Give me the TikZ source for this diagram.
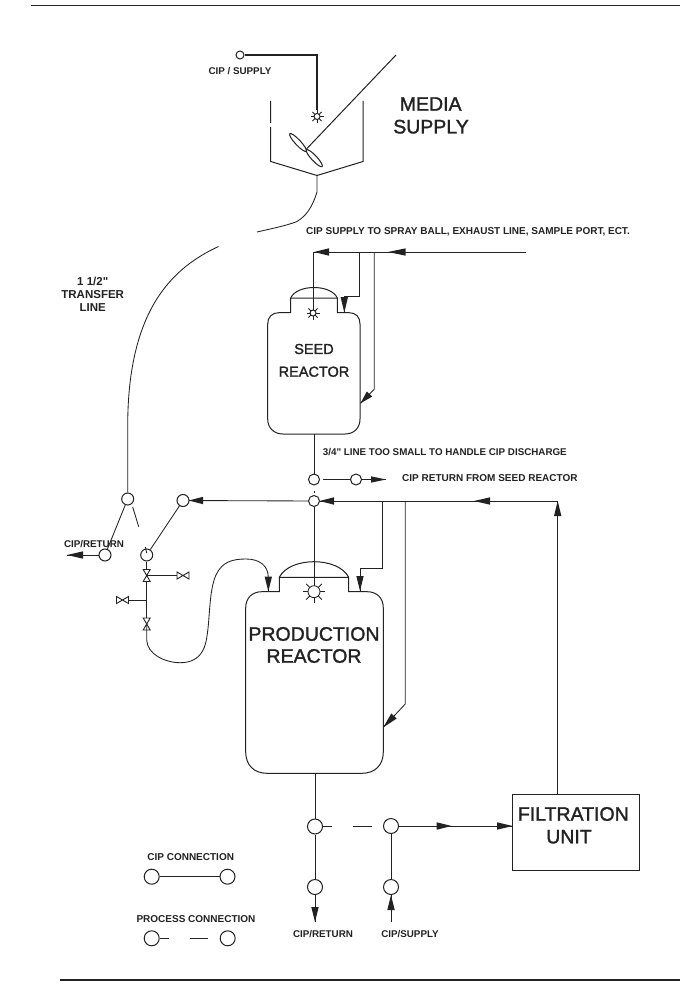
\documentclass[tikz,border=0pt]{standalone}
\usepackage{fontspec}
\setmainfont{Liberation Sans}
\newfontfamily\titlefont[FakeBold=1.5]{Liberation Sans}
\newfontfamily\tagfont{Liberation Sans Bold}
\usetikzlibrary{calc}
\definecolor{ink}{HTML}{222222}
% filled flow arrowhead from a base point to a tip point
\newcommand\flowhead[3][3.7pt]{%
  \fill[ink] ($#2!#1!90:#3$) -- #3 -- ($#2!#1!-90:#3$) -- cycle;
  \draw[pipe] #2 -- #3;}
\tikzset{
  x=1pt,y=-1pt,
  pipe/.style={draw=ink,line width=0.85pt},
  vessel/.style={draw=ink,line width=1pt},
  rule/.style={draw=ink,line width=1.3pt},
  port/.style={circle,draw=ink,line width=1pt,fill=white,inner sep=0pt,minimum size=#1},
  port/.default=12pt,
  title/.style={inner sep=0pt,text=ink,font=\titlefont\fontsize{19.5}{22}\selectfont},
  subtitle/.style={inner sep=0pt,text=ink,font=\titlefont\fontsize{14.5}{17}\selectfont},
  tag/.style={inner sep=0pt,text=ink,font=\tagfont\fontsize{#1}{13}\selectfont},
  tag/.default=10,
  sparkle/.pic={
    \draw[ink,line width=1pt] (0,0) circle (3);
    \foreach \a in {0,45,...,315}
      \draw[ink,line width=1pt] (\a:3) -- (\a:6.5);
  },
  valve/.pic={
    \draw[ink,line width=0.9pt,fill=white] (-3.5,-6) -- (3.5,-6) -- (-3.5,6) -- (3.5,6) -- cycle;
  },
}
\begin{document}
\begin{tikzpicture}
\useasboundingbox[fill=white] (0,0) rectangle (680,984);

% sheet rules
\coordinate (topL) at (31,5.5); \coordinate (topR) at (680,5.5);
\coordinate (botL) at (60,980); \coordinate (botR) at (680,980);
\draw[rule] (topL) -- (topR);
\draw[rule] (botL) -- (botR);

% ---- media supply tank ----
\node[port=8pt] (cipS) at (240,55) {};
\coordinate (cipC) at (317,55);
\coordinate (sprayM) at (317,116.5);
\draw[pipe,line width=1.1pt] (cipS) -- (cipC) -- (317,110);
\pic at (sprayM) {sparkle};
\draw[vessel] (270.7,101) -- (270.7,123) (270.7,127) -- (270.7,161.5) -- (317,175.5) -- (363,161.5) -- (363,101);
\coordinate (shaftT) at (396,55);
\coordinate (shaftB) at (306.5,149);
\draw[vessel] (shaftT) -- (shaftB);
\draw[vessel] (298,142.5) ellipse [x radius=12,y radius=2.7,rotate=-47];
\draw[vessel] (314.3,158.2) ellipse [x radius=11.5,y radius=2.7,rotate=-47];
\coordinate (outM) at (317,175.5);
\coordinate (gapA) at (257,232);
\coordinate (gapB) at (218.5,246.5);
\node[port] (transfer) at (127.7,499) {};
\draw[pipe] (outM) -- (317,192) .. controls (312,208) and (306,216) .. (296.7,221.7) .. controls (285,226) and (270,229) .. (gapA);
\draw[pipe] (gapB) .. controls (172,268) and (128,310) .. (127.7,425) -- (transfer);
\node[title] at (430.7,104) {MEDIA};
\node[title] at (431,126.7) {SUPPLY};
\node[tag=9.8] at (240,71) {CIP / SUPPLY};
\node[tag=11.5,align=center] at (92.7,294) {1 1/2"\\TRANSFER\\LINE};

% ---- seed reactor ----
\coordinate (feedR) at (526,252);
\coordinate (feedL) at (313.3,252);
\coordinate (sprayS) at (313,313);
\coordinate (branchA) at (359.3,252);
\coordinate (branchB) at (374.3,252);
\draw[vessel] (290.7,298) -- (290.7,312.7) -- (279,312.7) .. controls (272,312.7) and (267.7,317) .. (267.7,324)
  -- (267.7,419) .. controls (267.7,428) and (274,434) .. (283,434) -- (345,434)
  .. controls (354,434) and (360,428) .. (360,419) -- (360,324)
  .. controls (360,317) and (356,312.7) .. (349,312.7) -- (337.3,312.7) -- (337.3,298) -- cycle;
\draw[vessel] (290.7,298) .. controls (297,284) and (331,284) .. (337.3,298);
\pic at (sprayS) {sparkle};
\draw[pipe] (feedR) -- (feedL) -- (313.3,307);
\draw[pipe] (branchA) -- (359.3,296.7) -- (344.3,296.7);
\flowhead{(344.3,297)}{(344.3,312.7)}
\draw[pipe] (branchB) -- (374.3,389.3) -- (369.5,394);
\flowhead{(369.5,394)}{(360.5,403.3)}
\flowhead{(329,252)}{(314,252)}
\flowhead{(405.7,252)}{(388,252)}
\node[subtitle] at (314,349) {SEED};
\node[subtitle] at (314,371.7) {REACTOR};
\node[tag,anchor=west] at (306,232) {CIP SUPPLY TO SPRAY BALL, EXHAUST LINE, SAMPLE PORT, ECT.};
\node[tag=9.8,anchor=west] at (322.7,452.5) {3/4" LINE TOO SMALL TO HANDLE CIP DISCHARGE};
\node[tag,anchor=west] at (402,478) {CIP RETURN FROM SEED REACTOR};

% seed reactor discharge
\node[port=11pt] (seedOut) at (314,479.5) {};
\node[port=11pt] (seedRet) at (356,479.5) {};
\node[port=11pt] (header) at (314,501) {};
\coordinate (seedBot) at (314,434);
\draw[pipe] (seedBot) -- (seedOut);
\draw[pipe] (322.7,479.5) -- (seedRet);
\draw[pipe] (seedRet) -- (371,479.5);
\flowhead[3.2pt]{(371,479.5)}{(386,479.5)}
\coordinate (dotA) at (314,491); \coordinate (dotB) at (314,493);
\draw[pipe] (dotA) -- (dotB);

% ---- process header and production reactor ----
\node[port] (bend) at (183,500.5) {};
\coordinate (headR) at (557.7,501);
\node[draw=ink,line width=1pt,inner sep=0pt,minimum width=126.6pt,minimum height=76.4pt] (filter) at (576,832.5) {};
\draw[pipe] (filter.north -| headR) -- (headR) -- (header);
\draw[pipe] (header) -- (bend);
\flowhead{(557.7,516)}{(557.7,501)}
\flowhead{(490,501)}{(474,501)}
\flowhead{(334,501)}{(319.5,501)}
\flowhead{(203,500.5)}{(188.8,500.5)}

\draw[vessel] (279.3,577.3) -- (279.3,591.7) -- (262,591.7) .. controls (252,591.7) and (245.7,598) .. (245.7,608)
  -- (245.7,752) .. controls (245.7,765) and (254,773.3) .. (267,773.3) -- (362,773.3)
  .. controls (375,773.3) and (383.3,765) .. (383.3,752) -- (383.3,608)
  .. controls (383.3,598) and (377,591.7) .. (367,591.7) -- (348.7,591.7) -- (348.7,577.3) -- cycle;
\draw[vessel] (279.3,577.3) .. controls (290,556.5) and (338,556.5) .. (348.7,577.3);
\coordinate (sprayP) at (314,591.7);
\begin{scope}[shift={(sprayP)},line width=0.85pt]
  \draw[ink] (0,0) circle (6);
  \foreach \a in {0,45,...,315}
    \draw[ink] (\a:6) -- (\a:11);
\end{scope}
\draw[pipe] (header) -- (314,585.7);
\draw[pipe] (382.7,501) -- (382.7,568.3) -- (360,568.3) -- (360,576);
\flowhead{(360,576)}{(360,591)}
\draw[pipe] (405.3,501) -- (405.3,704) -- (394,716);
\flowhead{(394,716)}{(383.3,727.3)}
\node[title] at (314,634) {PRODUCTION};
\node[title] at (314,656) {REACTOR};

% ---- transfer and recirculation valve train ----
\node[port] (retC) at (105,555) {};
\node[port] (retD) at (146.7,555) {};
\coordinate (stub1) at (132.7,507); \coordinate (stub2) at (138.7,526.7);
\draw[pipe] (transfer) -- (retC);
\draw[pipe] (stub1) -- (stub2);
\draw[pipe] (bend) -- (retD);
\draw[pipe] (145.3,547) -- (146.7,553);
\draw[pipe] (retC) -- (83,555);
\flowhead{(83,555)}{(67,555)}
\node[tag=9.8] at (94,544) {CIP/RETURN};

\coordinate (valveA) at (146.7,575.5);
\coordinate (valveB) at (146.7,624);
\coordinate (sideA) at (183,575.5);
\coordinate (sideB) at (122.5,600);
\draw[pipe] (retD) -- (valveA) -- (sideA);
\draw[pipe] (valveA) -- (valveB);
\draw[pipe] (146.7,600) -- (sideB);
\pic at (valveA) {valve};
\pic at (valveB) {valve};
\pic[rotate=90] at (sideA) {valve};
\pic[rotate=90] at (sideB) {valve};
\draw[pipe] (valveB) -- (146.7,640) .. controls (147,654) and (165,662.7) .. (180,662.7)
  .. controls (198,662.7) and (205,652) .. (207,636)
  .. controls (210,618) and (209,590) .. (216,575)
  .. controls (222,562) and (232,559) .. (246,559)
  .. controls (260,559) and (268,566) .. (268.3,577);
\flowhead{(268.3,576.5)}{(268.3,591.5)}

% ---- production reactor outlet and filtration loop ----
\coordinate (prodBot) at (315,773.3);
\node[port=15pt] (outA) at (315,826.5) {};
\node[port=15pt] (outB) at (391,826) {};
\node[port=15pt] (retA) at (315,887) {};
\node[port=15pt] (supB) at (391,887) {};
\draw[pipe] (prodBot) -- (outA);
\draw[pipe] (outA) -- (retA);
\draw[pipe] (outB) -- (supB);
\coordinate (dashA) at (331.7,826.5); \coordinate (dashB) at (353.3,826.5); \coordinate (dashC) at (372.3,826.5);
\draw[pipe] (outA) -- (dashA);
\draw[pipe] (dashB) -- (dashC);
\draw[pipe] (outB) -- (filter.west |- outB);
\flowhead{(436.7,826)}{(451.7,826)}
\flowhead{(497,826)}{(512.7,826)}
\draw[pipe] (retA) -- (315,907);
\flowhead{(315,907)}{(315,922)}
\coordinate (supTail) at (391,921.7);
\draw[pipe] (supTail) -- (391,910);
\flowhead{(391,910)}{(391,895)}
\node[tag=9.8] at (323,934) {CIP/RETURN};
\node[tag=9.8] at (410,934) {CIP/SUPPLY};
\node[title] at (573.3,814) {FILTRATION};
\node[title] at (569,836.7) {UNIT};

% ---- connection legend ----
\node[tag] at (190.7,857) {CIP CONNECTION};
\node[port=15pt] (legA) at (151.7,876.7) {};
\node[port=15pt] (legB) at (227.5,876.7) {};
\draw[pipe,line width=1.2pt] (legA) -- (legB);
\node[tag] at (196,918.7) {PROCESS CONNECTION};
\node[port=15pt] (legC) at (151.7,938.3) {};
\node[port=15pt] (legD) at (227.7,938.3) {};
\coordinate (legE) at (169.3,938.3); \coordinate (legF) at (190,938.3); \coordinate (legG) at (208.3,938.3);
\draw[pipe] (legC) -- (legE);
\draw[pipe] (legF) -- (legG);
\end{tikzpicture}
\end{document}
